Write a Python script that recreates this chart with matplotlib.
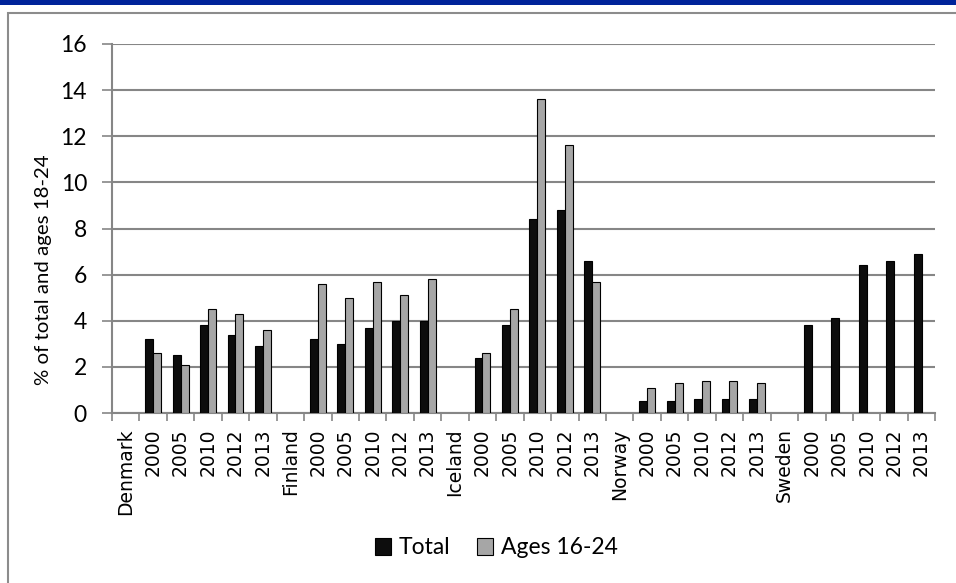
import numpy as np
import matplotlib.pyplot as plt
from matplotlib.patches import Rectangle

plt.rcParams['font.family'] = ['Lato', 'DejaVu Sans']

countries = ['Denmark', 'Finland', 'Iceland', 'Norway', 'Sweden']
years = ['2000', '2005', '2010', '2012', '2013']

# share of population, per country and year
total = [
    [3.2, 2.5, 3.8, 3.4, 2.9],
    [3.2, 3.0, 3.7, 4.0, 4.0],
    [2.4, 3.8, 8.4, 8.8, 6.6],
    [0.5, 0.5, 0.6, 0.6, 0.6],
    [3.8, 4.1, 6.4, 6.6, 6.9],
]
ages_16_24 = [
    [2.6, 2.1, 4.5, 4.3, 3.6],
    [5.6, 5.0, 5.7, 5.1, 5.8],
    [2.6, 4.5, 13.6, 11.6, 5.7],
    [1.1, 1.3, 1.4, 1.4, 1.3],
    [None, None, None, None, None],
]

# flatten into one category axis: country header followed by its years
labels, tot, young = [], [], []
for c, t, y in zip(countries, total, ages_16_24):
    labels.append(c)
    tot.append(np.nan)
    young.append(np.nan)
    labels += years
    tot += t
    young += [np.nan if v is None else v for v in y]

x = np.arange(len(labels))
bw = 0.29
grid_col = '#868686'

fig = plt.figure(figsize=(9.56, 5.83), dpi=100)

# blue banner strip and the frame around the chart
fig.patches.append(Rectangle((0, 1 - 5 / 583), 1, 5 / 583, transform=fig.transFigure,
                             facecolor='#00239a', edgecolor='none'))
fig.patches.append(Rectangle((8 / 956, -0.1), 1.2, 1.1 - 13 / 583, transform=fig.transFigure,
                             facecolor='none', edgecolor='#8c8c8c', lw=1.5))

ax = fig.add_axes([112 / 956, 1 - 413 / 583, (935.3 - 112) / 956, (413 - 44) / 583])
ax.bar(x - bw / 2, tot, bw, color='#0d0d0d', edgecolor='black', lw=0.8, label='Total', zorder=3)
ax.bar(x + bw / 2, young, bw, color='#a6a6a6', edgecolor='black', lw=0.8, label='Ages 16-24', zorder=3)

ax.set_xlim(-0.5, len(labels) - 0.5)
ax.set_ylim(0, 16)
ax.set_yticks(np.arange(0, 17, 2))
ax.yaxis.grid(True, color=grid_col, lw=1.5, zorder=0)
ax.set_axisbelow(True)

ax.set_xticks(x)
ax.set_xticklabels(labels, rotation=90, va='top', ha='center')
for lbl in ax.get_xticklabels():
    lbl.set_fontfamily('DejaVu Sans')
    lbl.set_fontsize(13.5)
ax.set_xticks(np.arange(-0.5, len(labels), 1), minor=True)
ax.tick_params(axis='x', which='major', length=0, pad=11)
ax.tick_params(axis='x', which='minor', length=6, width=1.2, color=grid_col, direction='out')
ax.tick_params(axis='y', length=7, width=1.2, color=grid_col, labelsize=16.5, pad=11)

for s in ['top', 'right']:
    ax.spines[s].set_visible(False)
for s in ['left', 'bottom']:
    ax.spines[s].set_color(grid_col)
    ax.spines[s].set_linewidth(1.5)

fig.text(44 / 956, 1 - 270 / 583, '% of total and ages 18-24', rotation=90,
         ha='center', va='center', fontsize=14.7)

h, l = ax.get_legend_handles_labels()
fig.legend(h, l, loc='center', bbox_to_anchor=(496 / 956, 1 - 548 / 583), ncol=2,
           frameon=False, fontsize=16.5, handlelength=0.7, handleheight=0.7,
           handletextpad=0.35, columnspacing=1.15)

fig.savefig('out.png', dpi=100)
